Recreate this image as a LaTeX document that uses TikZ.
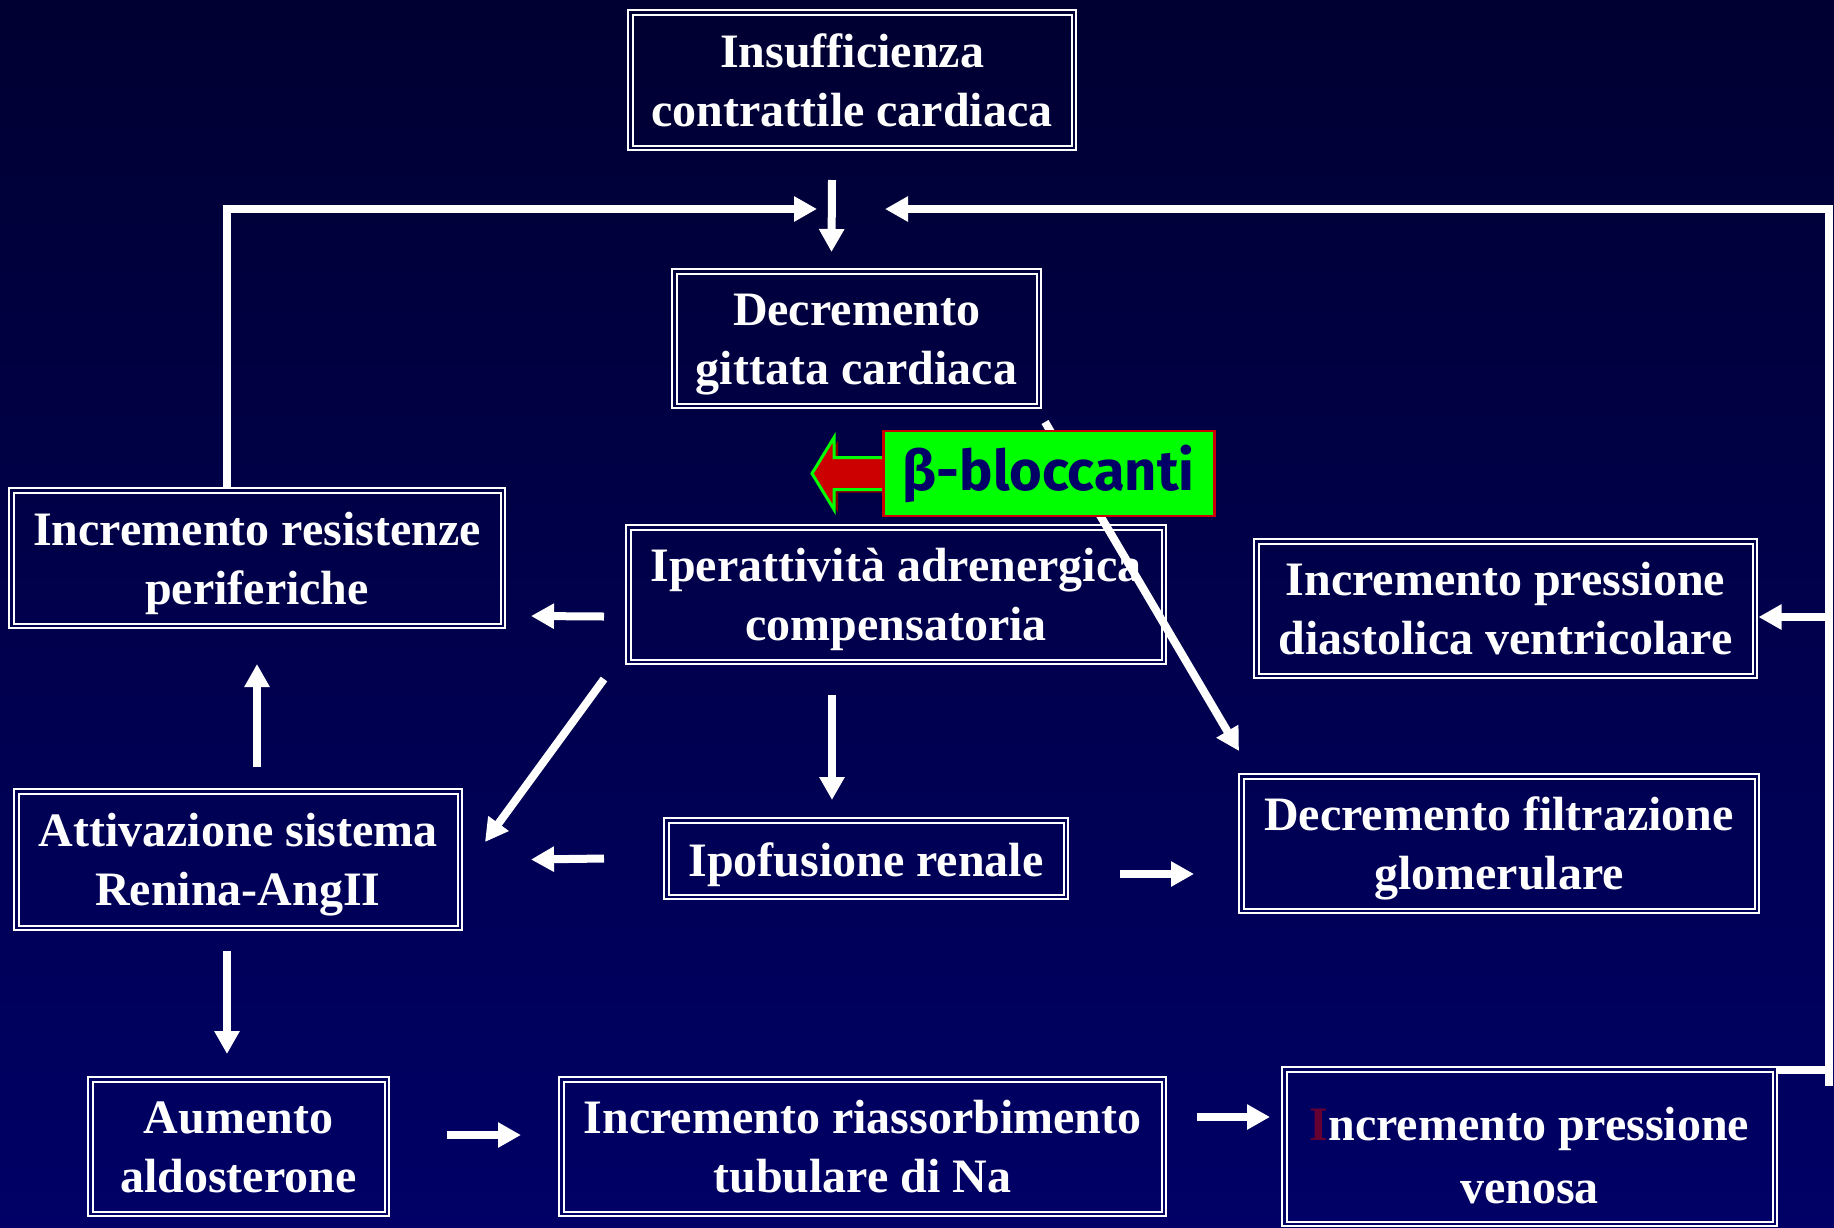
\documentclass[tikz,border=0pt]{standalone}
\usepackage{fontspec}
\setmainfont{Liberation Serif}
\newfontfamily\betafont{Fira Sans}
\usepackage{tikz}
\usetikzlibrary{arrows.meta}
\usetikzlibrary{calc}
\definecolor{bgtop}{RGB}{0,0,50}
\definecolor{bgbottom}{RGB}{0,0,102}
\definecolor{navytext}{RGB}{0,0,102}
\definecolor{iniziale}{RGB}{102,0,51}
\definecolor{ombra}{RGB}{128,0,0}

\begin{document}
\begin{tikzpicture}[x=1pt,y=-1pt,
% white boxes with double frame, thick white arrows
cornice/.style={draw=white,line width=2pt,text=white,align=center,inner sep=0pt,
  font=\bfseries\fontsize{48}{59}\selectfont,
  execute at end node={\rule[-12pt]{0pt}{0pt}}},
blocco/.style={cornice,execute at begin node={\rule{0pt}{104pt}}},
arr/.style={white,line width=8pt,-{Triangle[length=23pt,width=24pt]}}]

\useasboundingbox (0,0) rectangle (1834,1227);
\shade[top color=bgtop,bottom color=bgbottom] (0,0) rectangle (1834,1227);

\node[blocco,minimum width=448,minimum height=140] (insuff) at (852,80) {Insufficienza\\contrattile cardiaca};
\node[blocco,minimum width=369,minimum height=139] (gittata) at (856.5,338.5) {Decremento\\gittata cardiaca};
\node[blocco,minimum width=496,minimum height=140] (resist) at (257,558) {Incremento resistenze\\periferiche};
\node[blocco,minimum width=540,minimum height=139] (iper) at (896,594.5) {Iperattività adrenergica\\compensatoria};
\node[blocco,minimum width=503,minimum height=139] (diast) at (1505.5,608.5) {Incremento pressione\\diastolica ventricolare};
\node[blocco,minimum width=448,minimum height=141] (attiv) at (238,859.5) {Attivazione sistema\\Renina-AngII};
\node[cornice,minimum width=404,minimum height=81,
  execute at begin node={\rule{0pt}{47pt}}] (ipof) at (866,858.5) {Ipofusione renale};
\node[blocco,minimum width=520,minimum height=139] (filtr) at (1499,843.5) {Decremento filtrazione\\glomerulare};
\node[blocco,minimum width=301,minimum height=139] (aldo) at (238.5,1146.5) {Aumento\\aldosterone};
\node[blocco,minimum width=607,minimum height=139] (riass) at (862.5,1146.5) {Incremento riassorbimento\\tubulare di Na};
\node[cornice,minimum width=495,minimum height=159,font=\bfseries\fontsize{48}{63}\selectfont,
  execute at begin node={\rule{0pt}{125pt}}] (venosa) at (1529.5,1146.5) {\textcolor{iniziale}{I}ncremento pressione\\venosa};

\foreach \n in {insuff,gittata,resist,iper,diast,attiv,ipof,filtr,aldo,riass,venosa} {
  \draw[white,line width=2pt] ($(\n.north west)+(5.5,5.5)$) rectangle ($(\n.south east)+(-5.5,-5.5)$);
}

\coordinate (rtop) at (1829,209);
\coordinate (jl) at (817,209);
\coordinate (jr) at (885,209);

\draw[arr] ($(insuff.south)+(-20,29)$) -- ($(gittata.north)+(-25,-16)$);
\draw[arr] ($(resist.north)+(-30,0)$) |- (jl);
\draw[arr] ($(venosa.north east)+(0,4)$) -| (rtop) -- (jr);
\draw[white,line width=8pt] (rtop |- venosa.north east) -- ++(0,20);
\draw[arr] ($(diast.east)+(71.5,8.5)$) -- ($(diast.east)+(0.5,8.5)$);
\draw[arr] ($(iper.west)+(-21,22)$) -- ($(resist.east)+(25,58)$);
\draw[arr] ($(iper.south west)+(-21,14)$) -- ($(attiv.north east)+(22,54)$);
\draw[arr] ($(iper.south)+(-64,30)$) -- ($(ipof.north)+(-34,-17)$);
\draw[arr] ($(attiv.north)+(19,-21)$) -- ($(resist.south)+(0,35)$);
\draw[arr] ($(ipof.west)+(-59,0)$) -- ($(attiv.east)+(68,0)$);
\draw[arr] ($(ipof.east)+(51,15.5)$) -- ($(filtr.west)+(-44,30.5)$);
\draw[arr] ($(attiv.south)+(-11,20)$) -- ($(aldo.north)+(-11.5,-22)$);
\draw[arr] ($(aldo.east)+(57,-11.5)$) -- ($(riass.west)+(-37,-11.5)$);
\draw[arr] ($(riass.east)+(30,-29.5)$) -- ($(venosa.west)+(-11,-29.5)$);
\draw[arr] ($(gittata.south east)+(3,13)$) -- ($(filtr.north west)+(1,-22)$);

\coordinate (betaw) at (882,473.5);
\begin{scope}[shift={(betaw)}]
  \fill[ombra] (0,-13) -- (-44,-13) -- (-44,-33) -- (-66,3) -- (-44,39) -- (-44,19) -- (0,19) -- cycle;
  \filldraw[fill=red!80!black,draw=green,line width=3pt] (0,-16) -- (-48,-16) -- (-48,-36) -- (-70,0) -- (-48,36) -- (-48,16) -- (0,16);
\end{scope}
\node[draw=red!80!black,line width=2.5pt,fill=green,text=navytext,anchor=west,
  minimum width=331,minimum height=85,inner sep=0pt,
  font=\betafont\bfseries\fontsize{56}{64}\selectfont] (beta) at (betaw) {β-bloccanti};
\end{tikzpicture}
\end{document}
